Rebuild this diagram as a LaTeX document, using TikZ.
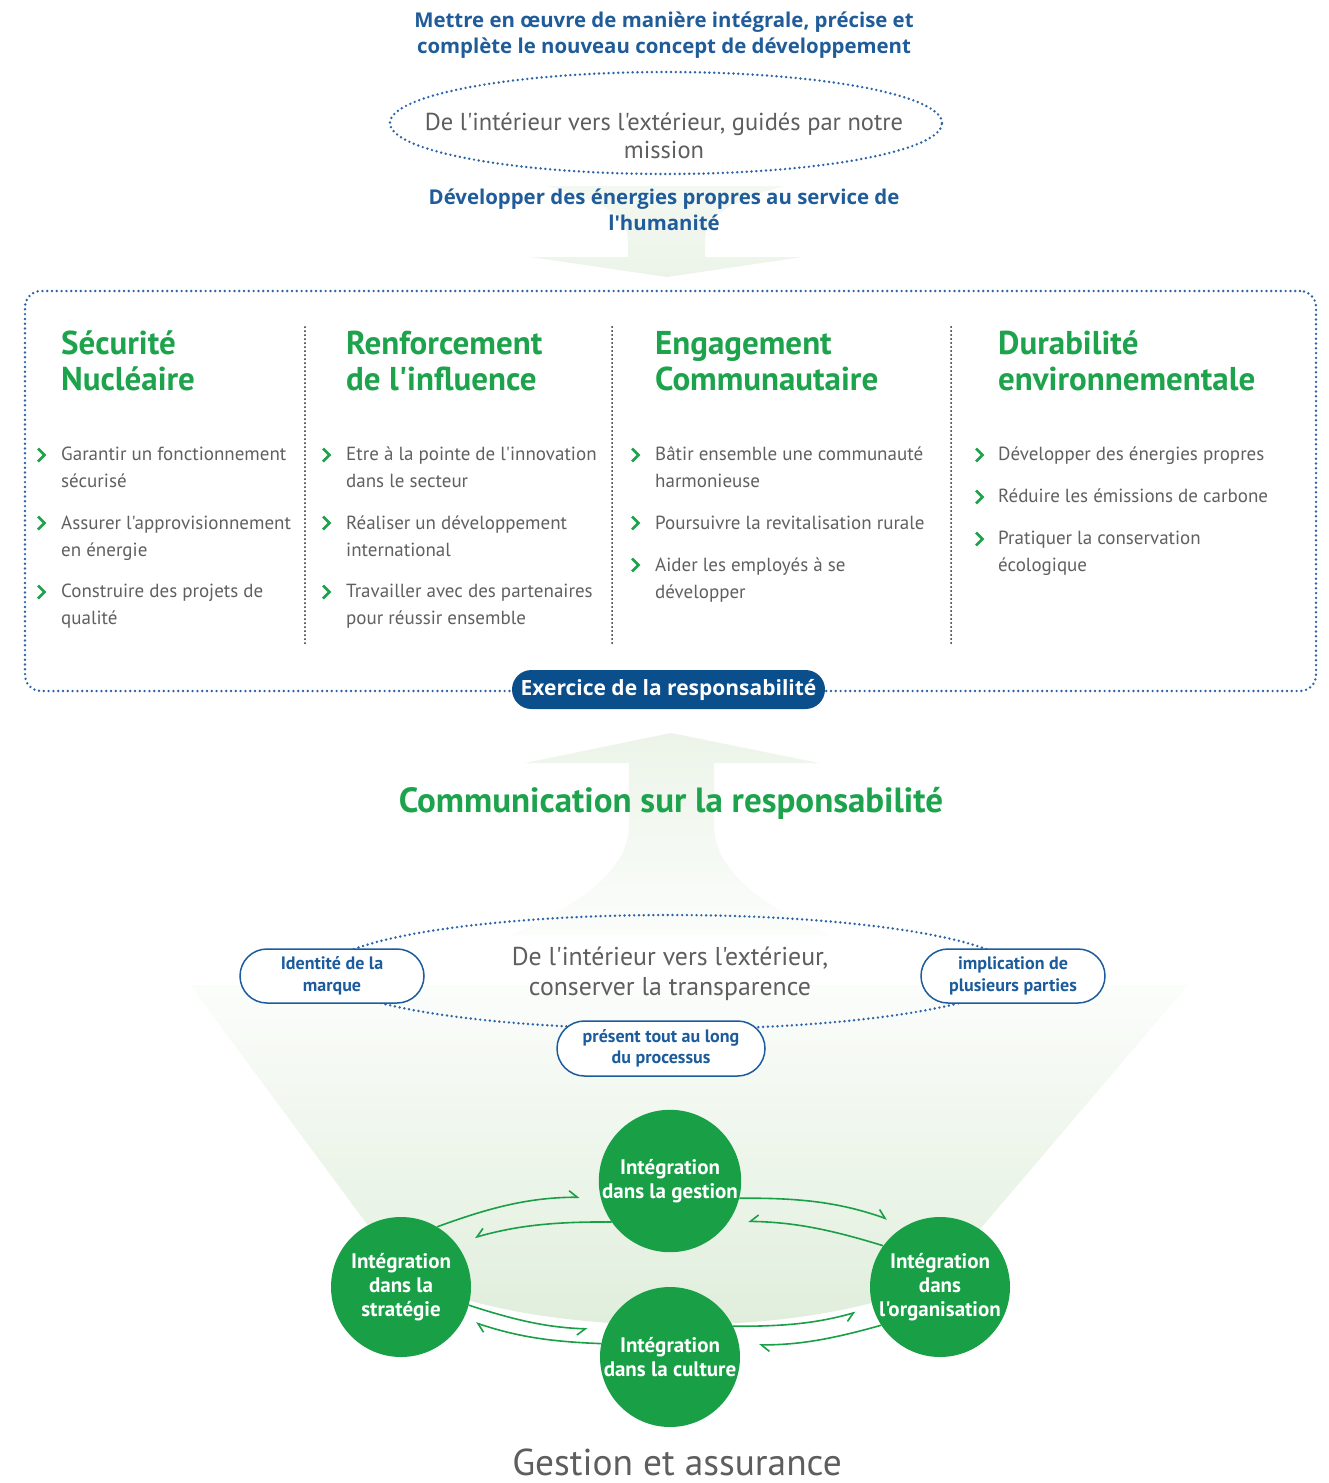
\documentclass[tikz,border=0pt]{standalone}
\usepackage{fontspec}
\setmainfont{PT Sans}[Ligatures=TeXOff]
\newfontfamily\opensans{Open Sans}
\usetikzlibrary{shapes.geometric,shapes.misc,arrows.meta}
\definecolor{titleblue}{HTML}{1F5C99}
\definecolor{dotblue}{HTML}{2D64A8}
\definecolor{pillblue}{HTML}{0B4E8C}
\definecolor{lowblue}{HTML}{1D5C9C}
\definecolor{headgreen}{HTML}{1CA34B}
\definecolor{circgreen}{HTML}{19A047}
\definecolor{bodygray}{HTML}{606060}
\definecolor{midgray}{HTML}{5E5E5E}
\definecolor{paleg}{HTML}{ECF4E9}
\definecolor{deepg}{HTML}{E0EEDC}
\begin{document}
\begin{tikzpicture}[x=1pt,y=-1pt,
  bluetitle/.style={font=\opensans\bfseries\fontsize{20.4}{26}\selectfont, text=titleblue, align=center, inner sep=0pt, anchor=base},
  graytext/.style={font=\fontsize{24.5}{28}\selectfont, text=midgray, align=center, inner sep=0pt, anchor=base},
  dotline/.style={draw=dotblue, line width=2.7pt, line cap=round, dash pattern=on 0pt off 4.8pt},
  heading/.style={font=\bfseries\fontsize{33}{36}\selectfont, text=headgreen, align=left, anchor=base west, inner sep=0pt},
  itemtext/.style={font=\fontsize{19}{27}\selectfont, text=bodygray, align=left, anchor=base west, inner sep=0pt},
  chevron/.style={draw=headgreen, line width=2.8pt, line join=miter},
  divider/.style={draw=black!85, line width=2pt, line cap=round, dash pattern=on 0pt off 4pt},
  circ/.style={circle, fill=circgreen, minimum size=140pt, inner sep=0pt, text=white, font=\bfseries\fontsize{21}{24}\selectfont, align=center},
  pillw/.style={rounded rectangle, draw=lowblue, line width=1.5pt, fill=white, inner sep=0pt, font=\bfseries\fontsize{18}{21.5}\selectfont, text=lowblue, align=center},
  ring/.style={draw=circgreen, line width=1.6pt},
  hl/.style={-{Straight Barb[left,length=8pt,width=13pt]}},
  hr/.style={-{Straight Barb[right,length=8pt,width=13pt]}}
]
\useasboundingbox (0,0) rectangle (1328,1483);
\fill[white] (0,0) rectangle (1328,1483);

% ---- pale green arrows / background ----
\shade[top color=white!40!paleg, bottom color=paleg]
  (547,186) .. controls (600,200) and (628,215) .. (628,240) -- (628,257) -- (530,257)
  -- (667,277) -- (802,257) -- (705,257) -- (705,240) .. controls (705,215) and (734,200) .. (784,186) -- cycle;
\shade[top color=white!88!deepg, bottom color=deepg]
  (190,985) -- (1188,985) -- (975,1235) arc[start angle=0, end angle=180, x radius=300, y radius=90] -- cycle;
\shade[top color=paleg, bottom color=white!80!paleg]
  (671,733) -- (819,763) -- (714,763) -- (714,825) .. controls (714,870) and (760,905) .. (830,935)
  -- (510,935) .. controls (580,905) and (629,870) .. (629,825) -- (629,763) -- (525,763) -- cycle;

% ---- top part ----
\node[bluetitle] (title) at (664,53) {Mettre en œuvre de manière intégrale, précise et\\complète le nouveau concept de développement};
\node[ellipse, dotline, minimum width=552pt, minimum height=102pt, inner sep=0pt] (mission) at (666,123) {};
\node[graytext] (missiontxt) at (664,158) {De l'intérieur vers l'extérieur, guidés par notre\\mission};
\node[bluetitle] (develop) at (664,230) {Développer des énergies propres au service de\\l'humanité};

% ---- frame ----
\node[dotline, rounded corners=16pt, minimum width=1291pt, minimum height=400pt, inner sep=0pt] (frame) at (670.5,491) {};
\draw[divider] (305,327) -- (305,645);
\draw[divider] (612,327) -- (612,645);
\draw[divider] (951,327) -- (951,645);

\node[heading] (h1) at (61,390) {Sécurité\\Nucléaire};
\node[heading] (h2) at (346,390) {Renforcement\\de l'influence};
\node[heading] (h3) at (655,390) {Engagement\\Communautaire};
\node[heading] (h4) at (998,390) {Durabilité\\environnementale};

\newcommand\chev[2]{\draw[chevron] ({#1-3},{#2-6.5}) -- ({#1+3.5},{#2}) -- ({#1-3},{#2+6.5});}
% column 1
\chev{41}{455}\chev{41}{523}\chev{41}{592}
\node[itemtext] (a1) at (61,487) {Garantir un fonctionnement\\sécurisé};
\node[itemtext] (a2) at (61,556) {Assurer l'approvisionnement\\en énergie};
\node[itemtext] (a3) at (61,624) {Construire des projets de\\qualité};
% column 2
\chev{326}{455}\chev{326}{523}\chev{326}{592}
\node[itemtext] (b1) at (346,487) {Etre à la pointe de l'innovation\\dans le secteur};
\node[itemtext] (b2) at (346,556) {Réaliser un développement\\international};
\node[itemtext] (b3) at (346,624) {Travailler avec des partenaires\\pour réussir ensemble};
% column 3
\chev{635}{455}\chev{635}{523}\chev{635}{565}
\node[itemtext] (c1) at (655,487) {Bâtir ensemble une communauté\\harmonieuse};
\node[itemtext] (c2) at (655,529) {Poursuivre la revitalisation rurale};
\node[itemtext] (c3) at (655,598) {Aider les employés à se\\développer};
% column 4
\chev{979}{455}\chev{979}{497}\chev{979}{539}
\node[itemtext] (d1) at (998,460) {Développer des énergies propres};
\node[itemtext] (d2) at (998,502) {Réduire les émissions de carbone};
\node[itemtext] (d3) at (998,571) {Pratiquer la conservation\\écologique};

\node[rounded rectangle, fill=pillblue, minimum width=313pt, minimum height=39pt, inner sep=0pt,
  text=white, font=\opensans\bfseries\fontsize{21}{24}\selectfont] (exercice) at (668.5,689.5) {Exercice de la responsabilité};

% ---- lower part ----
\node[font=\bfseries\fontsize{35}{38}\selectfont, text=headgreen, anchor=base, inner sep=0pt] (comm) at (671,812) {Communication sur la responsabilité};

\node[ellipse, dotline, minimum width=690pt, minimum height=114pt, inner sep=0pt] (transp) at (670,972) {};
\node[graytext, font=\fontsize{25.8}{30}\selectfont] (transptxt) at (670,995) {De l'intérieur vers l'extérieur,\\conserver la transparence};
\node[pillw, minimum width=184pt, minimum height=54pt] (identite) at (332,976) {Identité de la\\marque};
\node[pillw, minimum width=184pt, minimum height=54pt] (implication) at (1013,976) {implication de\\plusieurs parties};
\node[pillw, minimum width=208pt, minimum height=55pt] (present) at (661,1048.5) {présent tout au long\\du processus};

\node[circ] (G) at (670,1181) {Intégration\\dans la gestion};
\node[circ] (S) at (401,1287) {Intégration\\dans la\\stratégie};
\node[circ] (O) at (940,1287) {Intégration\\dans\\l'organisation};
\node[circ] (C) at (670,1357) {Intégration\\dans la culture};

\draw[ring, hl, shorten >=21pt] (S.59) to[bend left=10] (G.193);
\draw[ring, hr, shorten >=20pt] (G.215) to[bend right=8] (S.39);
\draw[ring, hl, shorten >=20pt] (G.346) to[bend left=10] (O.119);
\draw[ring, hr, shorten >=19pt] (O.144) to[bend right=8] (G.326);
\draw[ring, hr, shorten >=18pt] (S.345) to[bend right=8] (C.157);
\draw[ring, hl, shorten >=13pt] (C.169) to[bend left=8] (S.333);
\draw[ring, hr, shorten >=18pt] (C.26) to[bend right=8] (O.197);
\draw[ring, hl, shorten >=20pt] (O.213) to[bend left=8] (C.10);

\node[font=\fontsize{37.4}{40}\selectfont, text=midgray, anchor=base, inner sep=0pt] (gestion) at (677,1475) {Gestion et assurance};
\end{tikzpicture}
\end{document}
